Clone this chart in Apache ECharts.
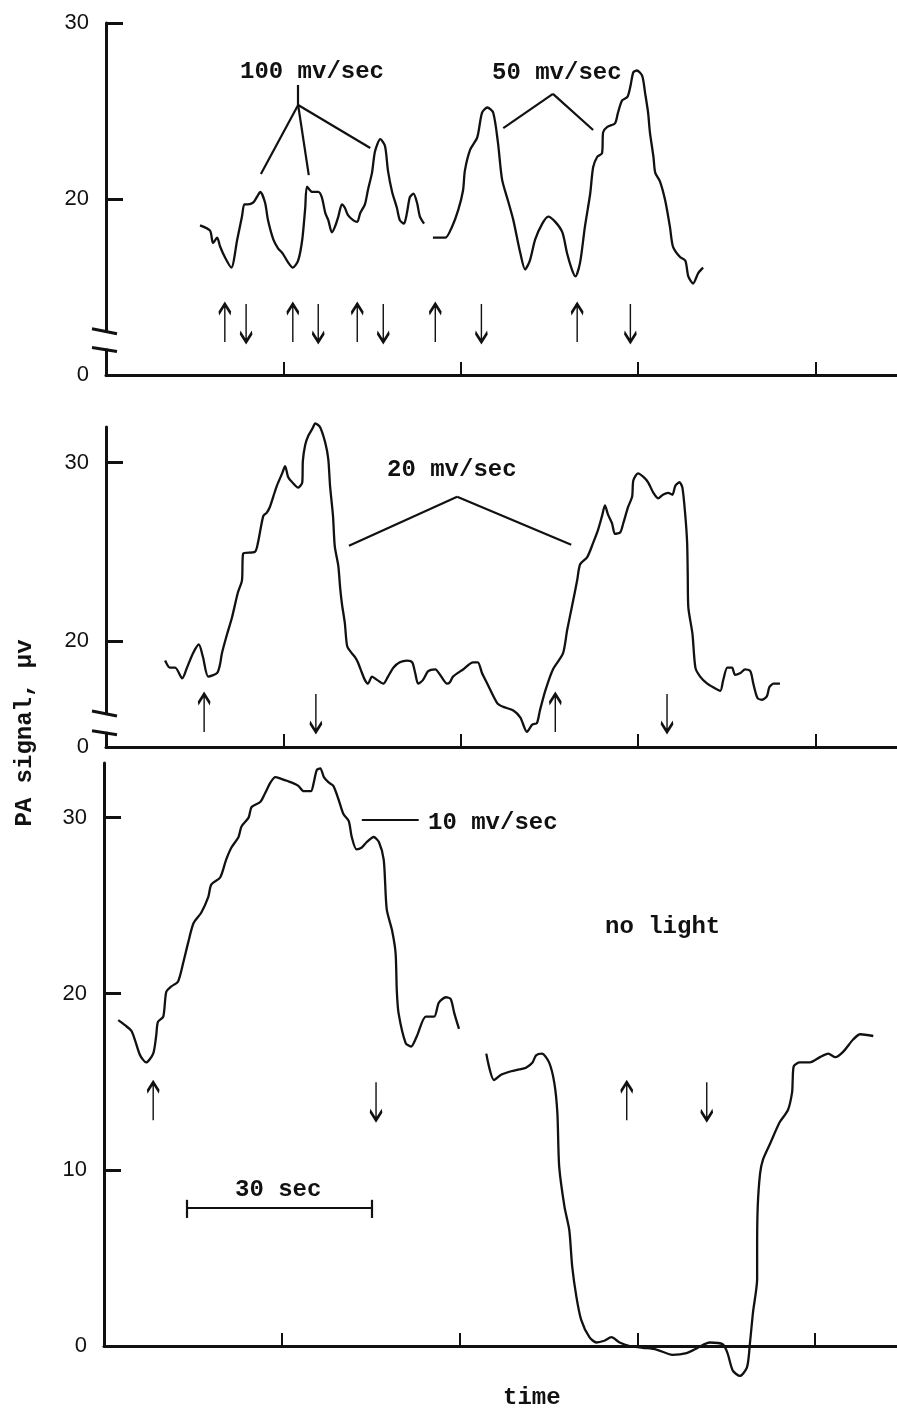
<!DOCTYPE html>
<html>
<head>
<meta charset="utf-8">
<script src="https://cdn.jsdelivr.net/npm/echarts@6/dist/echarts.min.js"></script>
<style>
  html, body { margin: 0; padding: 0; background: #fff; }
  #main { width: 897px; height: 1412px; }
</style>
</head>
<body>
<div id="main"></div>
<script>
// time in sec, PA signal in µV
const p1aTime = [15.9,17.6,18.1,18.8,19.3,20.1,21.2,22.2,23.0,23.4,24.0,24.9,25.5,26.1,26.9,27.4,28.3,29.1,29.9,30.8,31.6,32.5,33.2,33.7,34.0,34.9,35.9,36.5,37.1,37.6,38.2,38.7,39.3,39.9,40.4,40.9,41.8,42.5,43.0,43.8,44.3,45.0,45.5,46.4,47.2,47.7,48.4,49.2,49.7,50.4,50.9,51.4,52.0,52.6,53.1,53.8];
const p1aSignal = [18.5,18.2,17.5,17.8,17.3,16.7,16.1,17.7,19.0,19.7,19.7,19.8,20.1,20.4,19.8,18.8,17.7,17.2,16.9,16.4,16.1,16.5,17.7,19.5,20.7,20.4,20.4,20.1,19.2,18.8,18.1,18.4,19.0,19.7,19.5,19.1,18.8,18.7,19.2,19.7,20.5,21.5,22.7,23.4,23.0,21.6,20.4,19.5,18.8,18.6,19.2,20.1,20.3,19.8,19.0,18.6];

const p1bTime = [55.3,57.4,58.5,59.6,60.4,60.7,61.6,62.8,63.6,64.5,65.5,66.3,67.0,68.0,68.9,70.1,70.9,71.7,72.6,73.8,74.8,76.0,77.2,78.0,78.8,79.4,80.2,81.0,81.9,82.4,83.1,83.9,84.1,84.8,86.1,86.6,87.3,88.2,88.7,89.2,89.8,90.7,91.2,91.7,92.0,92.6,92.9,93.7,94.6,95.4,95.9,97.1,98.0,98.5,99.3,100.2,101.0];
const p1bSignal = [17.8,17.8,18.4,19.4,20.5,21.6,22.8,23.5,24.9,25.2,24.9,23.2,21.1,19.9,18.8,16.9,16.0,16.5,17.7,18.6,19.0,18.7,18.1,16.9,16.0,15.6,16.4,18.4,20.3,21.8,22.4,22.6,23.8,24.1,24.3,24.9,25.6,25.8,26.4,27.2,27.3,27.0,26.0,24.9,23.8,22.4,21.5,21.0,19.9,18.4,17.3,16.7,16.5,15.6,15.2,15.8,16.1];

const p2Time = [10.0,10.8,11.7,12.9,13.7,14.7,15.7,16.4,17.3,18.8,
  19.3,19.6,20.5,21.3,22.3,23.0,23.2,25.2,25.7,26.6,
  27.2,27.7,28.3,28.9,29.8,30.3,30.8,31.5,32.5,33.2,
  33.3,33.7,34.2,34.9,35.4,36.2,37.1,37.6,37.9,38.4,
  38.7,39.3,39.6,39.9,40.4,40.8,41.6,42.1,42.6,43.3,
  43.8,44.3,45.0,45.9,46.9,47.7,48.6,49.7,50.9,51.8,
  52.3,52.8,53.6,54.5,55.7,56.5,57.7,58.2,58.7,60.4,
  62.1,62.9,63.6,64.5,66.2,67.2,68.9,70.1,71.2,72.1,
  72.9,73.4,74.3,75.6,77.3,78.0,78.8,79.7,80.2,81.4,
  82.4,83.2,83.9,84.4,84.9,85.6,86.1,87.0,87.5,88.3,
  89.0,89.2,90.0,90.9,91.7,92.6,93.4,94.2,95.1,95.8,
  96.3,97.0,97.5,98.0,98.3,98.4,98.5,99.2,99.7,100.5,
  101.7,102.7,103.9,104.4,105.1,105.9,106.4,107.3,108.1,109.0,
  109.5,110.2,111.0,111.8,112.2,112.9,114.0];
const p2Signal = [18.9,18.5,18.5,17.9,18.5,19.3,19.8,19.1,18.0,18.2,
  18.7,19.3,20.4,21.3,22.7,23.4,24.9,25.0,25.5,27.0,
  27.2,27.5,28.1,28.7,29.4,29.8,29.2,28.9,28.6,28.9,
  30.1,31.0,31.5,31.9,32.2,32.0,31.1,30.2,28.7,27.0,
  25.3,24.2,23.0,22.1,21.0,19.7,19.3,19.1,18.8,18.2,
  17.8,17.6,18.0,17.8,17.6,18.0,18.5,18.8,18.9,18.8,
  18.2,17.6,17.8,18.3,18.4,18.1,17.6,17.7,18.0,18.4,
  18.8,18.8,18.2,17.6,16.5,16.3,16.1,15.7,14.9,15.3,
  15.4,16.1,17.2,18.4,19.3,20.6,21.9,23.4,24.3,24.7,
  25.5,26.2,27.0,27.6,27.1,26.6,26.0,26.1,26.6,27.5,
  28.1,29.0,29.4,29.2,28.9,28.3,28.0,28.2,28.3,28.2,
  28.7,28.9,28.6,27.0,25.5,23.8,21.9,20.4,18.5,18.0,
  17.6,17.4,17.2,17.8,18.5,18.5,18.1,18.2,18.4,18.3,
  17.6,16.8,16.7,16.9,17.4,17.6,17.6];

const p3aTime = [2.4,3.6,4.6,5.2,6.1,7.1,8.3,8.8,9.1,10.0,
  10.5,11.3,12.5,13.4,14.2,15.1,16.4,17.6,18.1,19.6,
  20.6,21.5,22.7,23.2,24.4,24.9,26.4,27.2,28.1,28.9,
  29.9,31.6,32.8,33.7,34.9,35.4,35.9,36.5,37.1,37.9,
  38.7,39.6,40.4,41.3,41.8,42.6,43.5,44.3,45.5,46.4,
  47.2,47.7,48.6,49.2,49.4,49.7,50.9,51.8,52.8,54.3,
  55.7,56.5,57.7,58.5,59.1,59.9];
const p3aSignal = [18.5,18.2,17.9,17.4,16.5,16.1,16.6,17.6,18.4,18.7,
  20.1,20.4,20.7,21.8,22.9,24.0,24.6,25.5,26.2,26.6,
  27.6,28.3,28.9,29.5,30.0,30.6,30.9,31.4,32.0,32.3,
  32.2,32.0,31.8,31.5,31.5,32.0,32.7,32.8,32.3,32.0,
  31.8,31.0,30.2,29.8,28.9,28.2,28.3,28.6,28.9,28.6,
  27.6,24.8,23.6,22.3,20.2,18.9,17.2,17.0,17.6,18.7,
  18.7,19.5,19.8,19.7,18.9,18.0];

const p3bTime = [64.5,65.8,67.0,68.7,70.1,71.2,72.3,72.9,73.9,75.1,
  76.0,76.5,76.8,77.7,78.5,79.0,79.7,80.5,81.9,83.1,
  84.4,85.6,87.0,88.7,90.9,93.2,95.9,98.3,100.2,102.2,
  104.4,105.2,106.1,107.3,108.5,109.0,109.5,110.2,110.2,110.3,
  110.7,111.2,112.4,114.0,115.4,116.1,116.2,116.4,117.4,119.1,
  120.8,122.2,123.4,124.7,126.4,127.6,129.8];
const p3bSignal = [16.6,15.1,15.4,15.6,15.7,15.8,16.1,16.5,16.6,16.1,
  14.9,13.2,10.2,7.9,6.6,4.5,2.8,1.5,0.5,0.2,
  0.3,0.5,0.2,0.0,-0.1,-0.2,-0.5,-0.4,-0.1,0.2,
  0.1,-0.4,-1.4,-1.7,-1.2,0.2,1.9,3.8,5.6,7.9,
  9.8,10.6,11.5,12.7,13.4,14.4,15.1,15.9,16.1,16.1,
  16.4,16.6,16.4,16.7,17.4,17.7,17.6];

// light on (up arrows) / light off (down arrows), sec
const p1On = [20.1, 31.6, 42.5, 55.7, 79.7];
const p1Off = [23.7, 35.9, 46.9, 63.5, 88.7];
const p2On = [16.6, 76.0];
const p2Off = [35.5, 94.9];
const p3On = [8.3, 88.2];
const p3Off = [45.9, 101.7];

const timeTicks = [30, 60, 90, 120];

const INK = '#111';
const MONO = '"Liberation Mono", "DejaVu Sans Mono", monospace';
const SANS = '"Liberation Sans", "DejaVu Sans", sans-serif';

const zip = (xs, ys) => xs.map((x, i) => [x, ys[i]]);

const chart = echarts.init(document.getElementById('main'));

function xAxisFor(i) {
  return {
    gridIndex: i, type: 'value', min: 0, max: 133.8,
    axisLine: { show: true, lineStyle: { color: INK, width: 3 } },
    axisTick: { show: true, inside: true, length: 13, customValues: timeTicks, lineStyle: { color: INK, width: 2 } },
    axisLabel: { show: false },
    splitLine: { show: false }
  };
}

function yAxisFor(i, min, max, ticks, labels, fmt) {
  return {
    gridIndex: i, type: 'value', min: min, max: max,
    axisLine: { show: true, lineStyle: { color: INK, width: 3 } },
    axisTick: { show: true, inside: true, length: 17, customValues: ticks, lineStyle: { color: INK, width: 3 } },
    axisLabel: { customValues: labels, formatter: fmt, color: INK, fontFamily: SANS, fontSize: 22, margin: 17 },
    splitLine: { show: false }
  };
}

function trace(i, data, markLines) {
  const s = {
    type: 'line', xAxisIndex: i, yAxisIndex: i, data: data,
    symbol: 'none', smooth: 0.25, clip: false, silent: true,
    lineStyle: { color: INK, width: 2.3 }
  };
  if (markLines) {
    s.markLine = {
      silent: true, symbol: 'none', label: { show: false },
      lineStyle: { color: INK, width: 2.2, type: 'solid', opacity: 1 },
      data: markLines.map(l => [{ coord: l[0] }, { coord: l[1] }])
    };
  }
  return s;
}

const UP = 'path://M6,0 L6,40 M0,10 L6,0 L12,10';
const DOWN = 'path://M6,0 L6,40 M0,30 L6,40 L12,30';

function arrows(i, times, level, path) {
  return {
    type: 'scatter', xAxisIndex: i, yAxisIndex: i, silent: true,
    data: times.map(t => [t, level]),
    symbol: path, symbolSize: [12, 38],
    itemStyle: { color: 'none', borderColor: INK, borderWidth: 2.5, opacity: 1 }
  };
}

const hub = [32.5, 25.34];

chart.setOption({
  animation: false,
  backgroundColor: '#fff',
  grid: [
    { left: 106, right: 0, top: 23, height: 352, outerBoundsMode: 'none' },
    { left: 106, right: 0, top: 427, height: 320, outerBoundsMode: 'none' },
    { left: 104, right: 0, top: 763, height: 583, outerBoundsMode: 'none' }
  ],
  xAxis: [xAxisFor(0), xAxisFor(1), xAxisFor(2)],
  yAxis: [
    yAxisFor(0, 10, 30, [20, 30], [10, 20, 30], v => (v <= 10 ? '0' : String(v))),
    yAxisFor(1, 14.05, 32, [20, 30], [14.05, 20, 30], v => (v < 15 ? '0' : String(v))),
    yAxisFor(2, 0, 33.1, [10, 20, 30], [0, 10, 20, 30], v => String(v))
  ],
  series: [
    trace(0, zip(p1aTime, p1aSignal), [
      [hub, [32.5, 26.48]],
      [hub, [26.2, 21.42]],
      [hub, [34.3, 21.36]],
      [hub, [44.7, 22.9]]
    ]),
    trace(0, zip(p1bTime, p1bSignal), [
      [[67.2, 24.03], [75.6, 25.97]],
      [[75.6, 25.97], [82.4, 23.92]]
    ]),
    trace(1, zip(p2Time, p2Signal), [
      [[41.1, 25.34], [59.4, 28.09]],
      [[59.4, 28.09], [78.7, 25.39]]
    ]),
    trace(2, zip(p3aTime, p3aSignal), [
      [[43.5, 29.85], [53.1, 29.85]],
      // 30 sec scale bar
      [[13.9, 7.84], [45.2, 7.84]],
      [[13.9, 7.27], [13.9, 8.3]],
      [[45.2, 7.27], [45.2, 8.3]]
    ]),
    trace(2, zip(p3bTime, p3bSignal)),
    arrows(0, p1On, 12.95, UP),
    arrows(0, p1Off, 12.95, DOWN),
    arrows(1, p2On, 15.96, UP),
    arrows(1, p2Off, 15.96, DOWN),
    arrows(2, p3On, 13.9, UP),
    arrows(2, p3Off, 13.9, DOWN)
  ]
});

// axis break marks on the two upper panels
function breakMark(gi, hi, lo) {
  const a = chart.convertToPixel({ gridIndex: gi }, [0, hi]);
  const b = chart.convertToPixel({ gridIndex: gi }, [0, lo]);
  const ln = { stroke: INK, lineWidth: 3 };
  return [
    { type: 'rect', z: 100, shape: { x: a[0] - 4, y: a[1], width: 8, height: b[1] - a[1] }, style: { fill: '#fff' } },
    { type: 'line', z: 101, shape: { x1: a[0] - 14, y1: a[1] - 4, x2: a[0] + 11, y2: a[1] + 1 }, style: ln },
    { type: 'line', z: 101, shape: { x1: a[0] - 14, y1: b[1] - 1, x2: a[0] + 11, y2: b[1] + 3 }, style: ln }
  ];
}

const FONT = 'bold 24px ' + MONO;

function label(text, x, y, extra) {
  return Object.assign({
    type: 'text', z: 50, x: x, y: y,
    style: { text: text, fill: INK, font: FONT, textVerticalAlign: 'middle' }
  }, extra || {});
}

chart.setOption({
  graphic: [
    ...breakMark(0, 12.4, 11.5),
    ...breakMark(1, 15.84, 14.9),
    label('100 mv/sec', 240, 72),
    label('50 mv/sec', 492, 73),
    label('20 mv/sec', 387, 470),
    label('10 mv/sec', 428, 823),
    label('no light', 605, 927),
    label('30 sec', 235, 1190),
    label('time', 503, 1398),
    label('PA signal, μv', 25, 733, {
      rotation: Math.PI / 2,
      style: { text: 'PA signal, μv', fill: INK, font: FONT, textAlign: 'center', textVerticalAlign: 'middle' }
    })
  ]
});
</script>
</body>
</html>
